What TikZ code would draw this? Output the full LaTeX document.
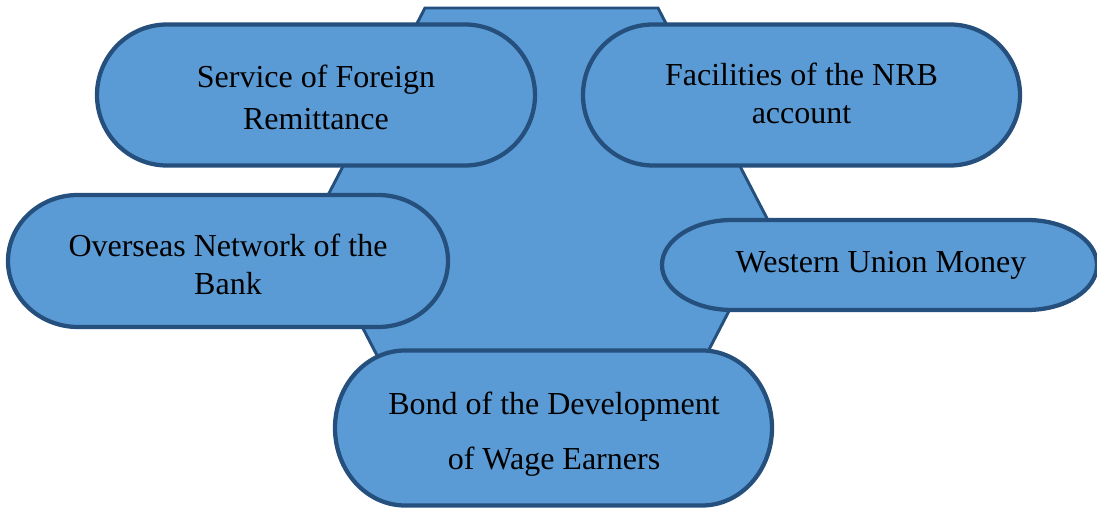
\documentclass[tikz,border=0pt]{standalone}
\usepackage{fontspec}
\setmainfont{Liberation Serif}
\definecolor{boxfill}{HTML}{5B9BD5}
\definecolor{boxline}{HTML}{25507D}
% terminator-shaped box: centre x, centre y, width, height, end radius
\newcommand\terminal[5]{%
  \draw[shapeline] ({#1-#3/2+#5},{#2+#4/2}) -- ({#1+#3/2-#5},{#2+#4/2})
    arc[start angle=90,end angle=-90,x radius=#5,y radius=#4/2]
    -- ({#1-#3/2+#5},{#2-#4/2})
    arc[start angle=270,end angle=90,x radius=#5,y radius=#4/2] -- cycle;}
\begin{document}
\begin{tikzpicture}[x=0.75pt,y=0.75pt,
  shapeline/.style={draw=boxline,fill=boxfill,line width=3.2pt},
  hexline/.style={draw=boxline,fill=boxfill,line width=2.2pt,line join=miter},
  txt/.style={font=\fontsize{24}{28.5}\selectfont,align=center,text=black,inner sep=0pt}]
\useasboundingbox (0,0) rectangle (1097,509);

% central hexagon behind the boxes
\draw[hexline] (425,501) -- (658,501) -- (772,281) -- (658,61) -- (425,61) -- (311,281) -- cycle;

% boxes
\terminal{316}{414}{438}{141}{70}
\terminal{801.5}{414}{437}{141}{70}
\terminal{228}{248}{440}{132}{70}
\terminal{879.5}{244}{435}{90}{70}
\terminal{553.5}{81}{437}{155}{70}

% labels
\node[txt] (remit) at (316,412) {Service of Foreign\\[3pt]Remittance};
\node[txt] (nrb) at (801.5,416) {Facilities of the NRB\\account};
\node[txt] (network) at (228,245) {Overseas Network of the\\Bank};
\node[txt] (wu) at (881,244) {Western Union Money};
\node[txt] (bond) at (554,75) {Bond of the Development\\[13pt]of Wage Earners};
\end{tikzpicture}
\end{document}
